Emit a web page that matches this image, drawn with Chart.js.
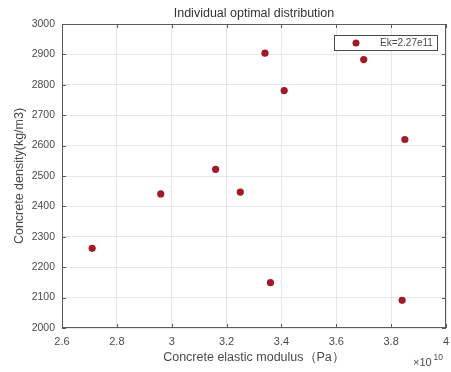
<!DOCTYPE html>
<html>
<head>
<meta charset="utf-8">
<script src="https://cdn.jsdelivr.net/npm/chart.js@4"></script>
<style>
	html, body { margin: 0; padding: 0; background: #fff; }
	#wrap { width: 451px; height: 372px; }
</style>
</head>
<body>
<div id="wrap"><canvas id="myChart" width="451" height="372"></canvas></div>
<script>
	// 콘크리트 탄성계수 (x 1e10 Pa) / 밀도 (kg/m3)
	var modulus = [2.71, 2.96, 3.16, 3.25, 3.34, 3.36, 3.41, 3.70, 3.85, 3.84];
	var density = [2262, 2441, 2522, 2447, 2904, 2149, 2781, 2883, 2620, 2091];
	var xTicks = [2.6, 2.8, 3.0, 3.2, 3.4, 3.6, 3.8, 4.0];
	var yTicks = [2000, 2100, 2200, 2300, 2400, 2500, 2600, 2700, 2800, 2900, 3000];
	var seriesLabel = 'Ek=2.27e11';

	var points = [];
	for (var i = 0; i < modulus.length; i++) {
		points.push({ x: modulus[i], y: density[i] });
	}

	var dotColor = '#a2192a';
	var axisColor = '#5a5a5a';
	var textColor = '#4a4a4a';
	var fontFamily = '"Liberation Sans", Arial, sans-serif';

	// 축 테두리 + 안쪽 눈금, 범례 박스, 지수 표기
	var boxPlugin = {
		id: 'boxPlugin',
		afterDraw: function(chart) {
			var ctx = chart.ctx;
			var a = chart.chartArea;
			var xs = chart.scales.x;
			var ys = chart.scales.y;
			var len = 4;
			ctx.save();
			ctx.strokeStyle = axisColor;
			ctx.lineWidth = 1;
			ctx.strokeRect(a.left + 0.5, a.top + 0.5, a.right - a.left - 1, a.bottom - a.top - 1);
			ctx.beginPath();
			xTicks.forEach(function(v) {
				var px = Math.round(xs.getPixelForValue(v)) + 0.5;
				ctx.moveTo(px, a.bottom); ctx.lineTo(px, a.bottom - len);
				ctx.moveTo(px, a.top); ctx.lineTo(px, a.top + len);
			});
			yTicks.forEach(function(v) {
				var py = Math.round(ys.getPixelForValue(v)) + 0.5;
				ctx.moveTo(a.left, py); ctx.lineTo(a.left + len, py);
				ctx.moveTo(a.right, py); ctx.lineTo(a.right - len, py);
			});
			ctx.stroke();

			// 범례
			var lx = 334.5, ly = 35.5, lw = 103, lh = 15;
			ctx.fillStyle = '#fff';
			ctx.fillRect(lx, ly, lw, lh);
			ctx.strokeStyle = '#4a4a4a';
			ctx.strokeRect(lx, ly, lw, lh);
			ctx.fillStyle = dotColor;
			ctx.beginPath();
			ctx.arc(356, ly + lh / 2, 3.5, 0, Math.PI * 2);
			ctx.fill();
			ctx.fillStyle = textColor;
			ctx.font = '10px ' + fontFamily;
			ctx.textBaseline = 'middle';
			ctx.textAlign = 'left';
			ctx.fillText(seriesLabel, 380, ly + lh / 2 + 0.5);

			// x10^10
			ctx.textBaseline = 'alphabetic';
			ctx.font = '11px ' + fontFamily;
			ctx.fillText('\u00d710', 413, 366);
			ctx.font = '8.5px ' + fontFamily;
			ctx.fillText('10', 433.5, 360);
			ctx.restore();
		}
	};

	var ctx = document.getElementById('myChart').getContext('2d');

	window.chart_main = new Chart(ctx, {
		type: 'scatter',
		data: {
			datasets: [{
				label: seriesLabel,
				data: points,
				backgroundColor: dotColor,
				borderColor: dotColor,
				borderWidth: 0,
				pointRadius: 3.6,
				pointHoverRadius: 3.6
			}]
		},
		options: {
			responsive: false,
			animation: false,
			devicePixelRatio: 1,
			layout: {
				padding: { left: 0, right: 5, top: 0, bottom: 0 }
			},
			plugins: {
				legend: { display: false },
				tooltip: { enabled: false },
				title: {
					display: true,
					fullSize: false,
					text: 'Individual optimal distribution',
					color: '#333',
					font: { family: fontFamily, size: 12.5, weight: 'normal' },
					padding: { top: 6, bottom: 3 }
				}
			},
			scales: {
				x: {
					type: 'linear',
					min: 2.6,
					max: 4,
					afterBuildTicks: function(scale) {
						scale.ticks = xTicks.map(function(v) { return { value: v }; });
					},
					afterFit: function(scale) {
						scale.height = 44;
						scale.paddingLeft = 0;
						scale.paddingRight = 0;
					},
					ticks: {
						color: textColor,
						padding: 7,
						maxRotation: 0,
						font: { family: fontFamily, size: 11 },
						callback: function(v) { return String(Number(v.toFixed(1))); }
					},
					grid: { color: '#e6e6e6', drawTicks: false },
					border: { display: false },
					title: {
						display: true,
						text: 'Concrete elastic modulus\uff08Pa\uff09',
						color: textColor,
						font: { family: fontFamily, size: 12.5 },
						padding: { top: 0, bottom: 7 }
					}
				},
				y: {
					type: 'linear',
					min: 2000,
					max: 3000,
					afterBuildTicks: function(scale) {
						scale.ticks = yTicks.map(function(v) { return { value: v }; });
					},
					afterFit: function(scale) {
						scale.width = 62;
						scale.paddingTop = 0;
						scale.paddingBottom = 0;
					},
					ticks: {
						color: textColor,
						padding: 7,
						font: { family: fontFamily, size: 10.5 },
						callback: function(v) { return String(v); }
					},
					grid: { color: '#e6e6e6', drawTicks: false },
					border: { display: false },
					title: {
						display: true,
						text: 'Concrete density(kg/m3)',
						color: textColor,
						font: { family: fontFamily, size: 12.5 },
						padding: { top: 12.5, bottom: 0 }
					}
				}
			}
		},
		plugins: [boxPlugin]
	});
</script>
</body>
</html>
